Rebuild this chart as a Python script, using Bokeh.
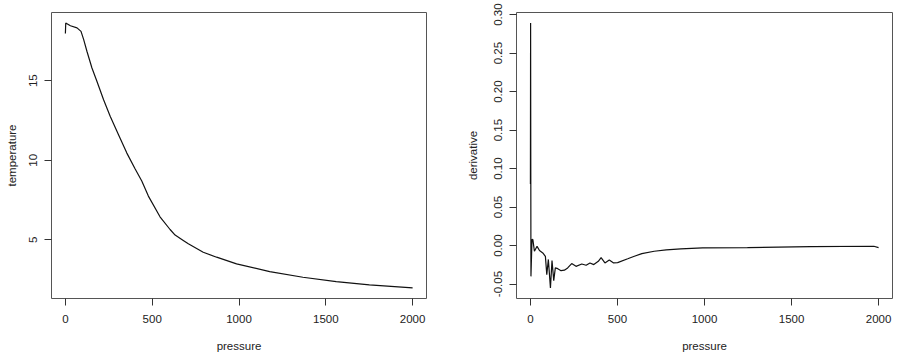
from bokeh.plotting import figure
from bokeh.layouts import row
from bokeh.models import Range1d, FixedTicker
from bokeh.embed import file_html
from bokeh.resources import INLINE

# ---- data ----
pressure_t = [0, 2, 29, 67, 90, 105, 124, 153, 182, 220, 258, 306, 354, 402, 440,
              478, 545, 603, 632, 679, 708, 794, 871, 986, 1177, 1368, 1560, 1751, 2000]
temperature = [17.96, 18.62, 18.45, 18.32, 18.1, 17.6, 16.85, 15.8, 14.95, 13.8,
               12.77, 11.6, 10.45, 9.45, 8.7, 7.75, 6.45, 5.65, 5.3, 4.96, 4.75,
               4.22, 3.91, 3.49, 3.0, 2.65, 2.38, 2.17, 1.98]

pressure_d = [0, 1, 3, 9, 14, 23, 38, 52, 71, 86, 94, 103, 115, 124, 134, 143, 157,
              176, 195, 214, 237, 262, 295, 320, 342, 364, 390, 406, 428, 453, 478,
              501, 559, 597, 640, 711, 780, 864, 989, 1247, 1610, 1973, 2000]
derivative = [0.080, 0.289, -0.040, 0.008, 0.0078, -0.0074, -0.001, -0.0065, -0.0096,
              -0.014, -0.0377, -0.018, -0.055, -0.0195, -0.0455, -0.029, -0.030,
              -0.0326, -0.032, -0.029, -0.0234, -0.027, -0.0239, -0.0256, -0.0226,
              -0.0247, -0.0204, -0.0158, -0.0225, -0.0188, -0.0226, -0.0222, -0.0172,
              -0.0139, -0.0105, -0.0074, -0.0056, -0.0044, -0.0031, -0.0028, -0.0013,
              -0.0009, -0.0026]

x_ticks = [0, 500, 1000, 1500, 2000]
t_ticks = [5, 10, 15]
d_ticks = [-0.05, 0.0, 0.05, 0.10, 0.15, 0.20, 0.25, 0.30]
d_tick_labels = ["-0.05", "0.00", "0.05", "0.10", "0.15", "0.20", "0.25", "0.30"]

FONT = "Liberation Sans"
FS = "11.5px"
TXT = "#222222"


def padded(vals, frac=0.04):
    lo, hi = min(vals), max(vals)
    d = (hi - lo) * frac
    return Range1d(lo - d, hi + d)


def style(p, ylabel, yticks, ylab_standoff):
    p.outline_line_color = "#555555"
    p.outline_line_width = 1
    p.grid.visible = False
    for ax in (p.xaxis[0], p.yaxis[0]):
        ax.axis_line_color = None
        ax.major_tick_out = 7
        ax.major_tick_in = 0
        ax.major_tick_line_color = "#333333"
        ax.minor_tick_line_color = None
        ax.major_label_text_font = FONT
        ax.major_label_text_font_size = FS
        ax.major_label_text_color = TXT
        ax.axis_label_text_font = FONT
        ax.axis_label_text_font_size = FS
        ax.axis_label_text_font_style = "normal"
        ax.axis_label_text_color = TXT
    p.xaxis[0].ticker = FixedTicker(ticks=x_ticks)
    p.xaxis[0].axis_label = "pressure"
    p.xaxis[0].major_label_standoff = 9
    p.xaxis[0].axis_label_standoff = 14
    p.yaxis[0].ticker = FixedTicker(ticks=yticks)
    p.yaxis[0].axis_label = ylabel
    p.yaxis[0].major_label_orientation = "vertical"
    p.yaxis[0].major_label_standoff = 7
    p.yaxis[0].axis_label_standoff = ylab_standoff


p1 = figure(frame_width=375, frame_height=286, min_border_left=51, min_border_right=23,
            min_border_top=12, min_border_bottom=64, toolbar_location=None,
            output_backend="svg", x_range=padded(pressure_t), y_range=padded(temperature))
p1.line(pressure_t, temperature, line_color="#111111", line_width=1.2)
style(p1, "temperature", t_ticks, 9)

p2 = figure(frame_width=376, frame_height=286, min_border_left=67, min_border_right=6,
            min_border_top=12, min_border_bottom=64, toolbar_location=None,
            output_backend="svg", x_range=padded(pressure_d), y_range=padded(derivative))
p2.line(pressure_d, derivative, line_color="#111111", line_width=1.2)
style(p2, "derivative", d_ticks, 13)
p2.yaxis[0].major_label_overrides = {v: s for v, s in zip(d_ticks, d_tick_labels)}

layout = row(p1, p2, spacing=0)
open("out.html", "w").write(file_html(layout, INLINE))
